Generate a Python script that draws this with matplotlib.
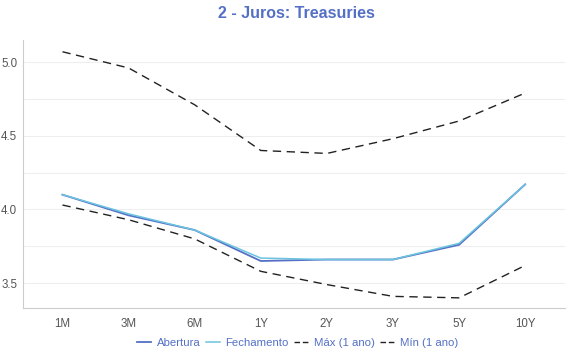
import matplotlib.pyplot as plt
from matplotlib.ticker import MultipleLocator

# Dados da curva
vertices = ['1M', '3M', '6M', '1Y', '2Y', '3Y', '5Y', '10Y']
abertura = [4.10, 3.96, 3.86, 3.65, 3.66, 3.66, 3.76, 4.17]
fechamento = [4.10, 3.97, 3.86, 3.67, 3.66, 3.66, 3.77, 4.17]
maximo = [5.07, 4.96, 4.71, 4.40, 4.38, 4.48, 4.60, 4.79]
minimo = [4.03, 3.93, 3.80, 3.58, 3.49, 3.41, 3.40, 3.62]

plt.rcParams['font.family'] = ['Liberation Sans', 'DejaVu Sans']

fig = plt.figure(figsize=(5.7, 3.6), dpi=100)
ax = fig.add_axes([0.040, 0.144, 0.951, 0.745])

x = range(len(vertices))
ax.plot(x, abertura, color='#5470c6', lw=1.3, label='Abertura', zorder=3)
ax.plot(x, fechamento, color='#6cc3e0', lw=1.1, label='Fechamento', zorder=3)
ax.plot(x, maximo, color='#222222', lw=1, ls=(0, (6, 4)), label='Máx (1 ano)')
ax.plot(x, minimo, color='#222222', lw=1, ls=(0, (6, 4)), label='Mín (1 ano)')

ax.set_xlim(-0.6, 7.6)
ax.set_ylim(3.33, 5.15)
ax.set_xticks(list(x))
ax.set_xticklabels(vertices)
ax.yaxis.set_major_locator(MultipleLocator(0.5))
ax.yaxis.set_minor_locator(MultipleLocator(0.25))
ax.yaxis.set_major_formatter(lambda v, p: '%.1f' % v)
ax.grid(True, which='both', axis='y', color='#eeeeee', lw=0.8)
ax.set_axisbelow(True)
ax.tick_params(axis='both', which='both', length=0, labelsize=8.3, labelcolor='#555555')
ax.tick_params(axis='x', pad=7)
ax.tick_params(axis='y', pad=4)
for s in ['top', 'right']:
    ax.spines[s].set_visible(False)
for s in ['left', 'bottom']:
    ax.spines[s].set_color('#cccccc')

fig.text(0.52, 1 - 13 / 360, '2 - Juros: Treasuries', ha='center', va='center',
         fontsize=11.5, fontweight='bold', color='#5470c6')

leg = fig.legend(loc='center', bbox_to_anchor=(0.522, 1 - 343 / 360), ncol=4, frameon=False,
                 fontsize=8.2, handlelength=1.2, handletextpad=0.5, columnspacing=0.5)
for t in leg.get_texts():
    t.set_color('#5470c6')
for h in leg.get_lines()[2:]:
    h.set_linestyle((0, (4, 2)))

fig.savefig('out.png', dpi=100)
